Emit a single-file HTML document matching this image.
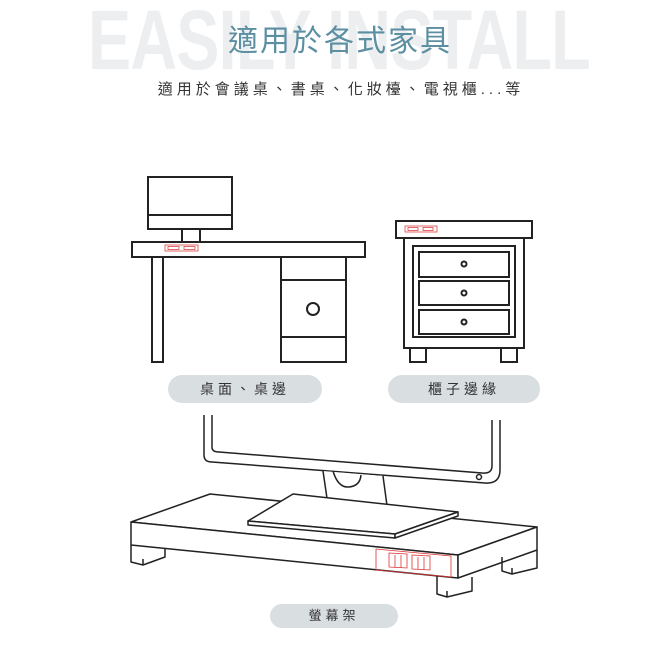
<!DOCTYPE html>
<html><head><meta charset="utf-8"><style>
html,body{margin:0;padding:0;background:#fff;}
body{width:650px;height:650px;position:relative;overflow:hidden;font-family:"Liberation Sans","Noto Sans CJK TC",sans-serif;}
.bg{position:absolute;left:88px;top:-8px;font-size:84px;font-weight:bold;color:#eceef0;letter-spacing:-1px;white-space:nowrap;font-family:"Liberation Sans",sans-serif;transform:scaleX(0.77);transform-origin:left top;}
.t1{position:absolute;left:0;width:680px;top:16px;text-align:center;font-size:30px;color:#5b8fa1;letter-spacing:2px;}
.t2{position:absolute;left:0;width:682px;top:78px;text-align:center;font-size:15px;color:#333;letter-spacing:4px;}
.pill{position:absolute;background:#d9dee1;border-radius:15px;text-align:center;color:#333;font-size:14px;letter-spacing:4px;}
svg{position:absolute;left:0;top:0;}
</style></head><body>
<div class="bg">EASILY INSTALL</div>
<div class="t1">適用於各式家具</div>
<div class="t2">適用於會議桌、書桌、化妝檯、電視櫃...等</div>
<svg width="650" height="650" viewBox="0 0 650 650" fill="none" stroke="#222" stroke-width="2">
<rect x="148" y="177" width="84" height="52" fill="#fff"/>
<line x1="148" y1="215" x2="232" y2="215"/>
<rect x="182" y="229" width="18" height="13"/>
<rect x="132" y="242" width="233" height="15" fill="#fff"/>
<g stroke="#d44" stroke-width="0.8">
<rect x="165" y="245" width="33" height="6"/>
<rect x="168" y="246.5" width="11" height="3"/><rect x="184" y="246.5" width="11" height="3"/>
</g>
<rect x="152" y="257" width="11" height="105"/>
<rect x="281" y="257" width="65" height="105"/>
<line x1="281" y1="280" x2="346" y2="280"/>
<line x1="281" y1="337" x2="346" y2="337"/>
<circle cx="313" cy="309" r="6"/>
<rect x="396" y="221" width="136" height="17"/>
<g stroke="#d44" stroke-width="0.8">
<rect x="405" y="226" width="32" height="6"/>
<rect x="408" y="227.5" width="10" height="3"/><rect x="423" y="227.5" width="10" height="3"/>
</g>
<rect x="404" y="238" width="120" height="110"/>
<rect x="413" y="246" width="102" height="91"/>
<rect x="419" y="252" width="90" height="25"/>
<rect x="419" y="281" width="90" height="24"/>
<rect x="419" y="310" width="90" height="24"/>
<circle cx="464" cy="264" r="2.5"/><circle cx="464" cy="293" r="2.5"/><circle cx="464" cy="322" r="2.5"/>
<rect x="410" y="348" width="16" height="14"/>
<rect x="501" y="348" width="16" height="14"/>
<g stroke-width="1.5" stroke-linejoin="round">
<polygon points="210,494 537,527 458,555 131,522" fill="#fff"/>
<polygon points="131,522 458,555 458,578 131,545" fill="#fff"/>
<polygon points="458,555 537,527 537,550 458,578" fill="#fff"/>
<path d="M131,545 v17 l12,3 l22,-8 v-8"/>
<path d="M143,565 v-6"/>
<path d="M437,576 v18 l10,3 l25,-6 v-14"/>
<path d="M447,597 v-6"/>
<path d="M537,550 v18 l-25,6 l-10,-3 v-14"/>
<path d="M512,574 v-6"/>
<path d="M204,415 V455 Q204,462 212,462 L485,483 Q500,484 500,470 V420"/>
<path d="M212,415 V447 Q212,452 219,452 L482,473 Q492,474 492,466 V420"/>
<circle cx="479" cy="477" r="2.5"/>
<path d="M323,471 L329,512 Q358,519 388,513 L383,476" fill="#fff"/>
<path d="M333,471 Q338,488 349,487 Q360,486 361,475"/>
<polygon points="248,521 293,494 458,512 395,534" fill="#fff"/>
<polygon points="248,521 395,534 395,538 248,525" fill="#fff"/>
<polygon points="395,534 458,512 458,516 395,538" fill="#fff"/>
</g>
<g stroke="#d33" stroke-width="0.8">
<polygon points="376,549 451,556 451,577 376,570"/>
<polygon points="389,553 407,554 407,568 389,567"/>
<polygon points="412,555 430,556 430,570 412,569"/>
<line x1="395" y1="555" x2="395" y2="567"/><line x1="401" y1="555" x2="401" y2="568"/>
<line x1="418" y1="557" x2="418" y2="569"/><line x1="424" y1="557" x2="424" y2="570"/>
</g>
</svg>
<div class="pill" style="left:168px;top:375px;width:154px;height:28px;line-height:28px;">桌面、桌邊</div>
<div class="pill" style="left:388px;top:375px;width:152px;height:28px;line-height:28px;">櫃子邊緣</div>
<div class="pill" style="left:270px;top:604px;width:128px;height:24px;line-height:24px;font-size:13px;">螢幕架</div>
</body></html>
